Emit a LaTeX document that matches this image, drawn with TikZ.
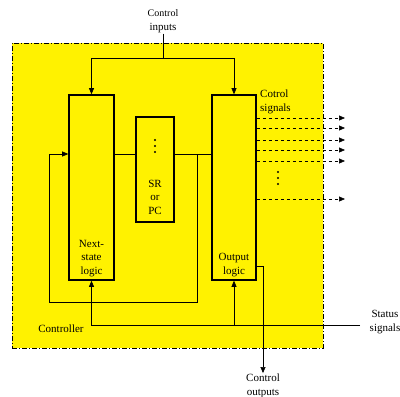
\documentclass[tikz,border=0pt]{standalone}
\usepackage{fontspec}
\setmainfont{Liberation Serif}
\usetikzlibrary{arrows.meta, positioning}

\begin{document}
\begin{tikzpicture}[
  x=1pt, y=-1pt,
  font=\fontsize{11}{13.5}\selectfont,
  ctrlbox/.style={rectangle, draw, fill=yellow, line width=0.6pt, dash pattern=on 5pt off 2pt on 1pt off 2pt, minimum width=311pt, minimum height=305pt},
  block/.style={rectangle, draw, line width=1.6pt, fill=yellow, minimum width=45pt, minimum height=185pt},
  lbl/.style={align=center, inner sep=1pt},
  wire/.style={line width=0.6pt},
  arrow/.style={-{Triangle[length=6pt, width=5pt]}, line width=0.6pt},
  sigout/.style={arrow, dashed}
]
\useasboundingbox (0,0) rectangle (400,397);

% Controller area
\node[ctrlbox] (ctrl) at (167.5,195.5) {};
\node[lbl] (ctrlname) at (61,329) {Controller};

% Blocks
\node[block] (nsl) at (91.5,187.5) {};
\node[block, minimum width=38pt, minimum height=105pt] (sr) at (155,169.5) {};
\node[block, minimum width=44pt] (out) at (234,187.5) {};
\node[lbl, above=3pt of nsl.south] (nsltxt) {Next-\\state\\logic};
\node[lbl, above=3pt of out.south] (outtxt) {Output\\logic};
\node[lbl] (srtxt) at (155,197) {SR\\or\\PC};
\foreach \y in {140,146,152} \fill (155,\y) circle (1.1pt);
\foreach \y in {172,178,184} \fill (278,\y) circle (1.1pt);

% Control inputs
\node[lbl] (cin) at (163,21) {{\fontsize{10}{12}\selectfont Control}\\inputs};
\coordinate (split) at (163,58);
\draw[wire] (cin) -- (split);
\draw[arrow] (split) -| (nsl.north);
\draw[arrow] (split) -| (out.north);

% State register loop
\coordinate (fb) at (197,154);
\coordinate (fbl) at (49,302);
\draw[wire] (nsl.east |- fb) -- (sr.west |- fb);
\draw[wire] (sr.east |- fb) -- (out.west |- fb);
\draw[arrow] (fb) |- (fbl) |- (nsl.west |- fb);

% Status signals
\node[lbl] (stat) at (385,322) {Status\\signals};
\coordinate (sin) at (360,325);
\draw[arrow] (sin) -| (nsl.south);
\draw[arrow] (out.south |- sin) -- (out.south);

% Control outputs
\node[lbl] (cout) at (263,386) {Control\\outputs};
\coordinate (co) at (263,266);
\draw[wire] (out.east |- co) -- (co);
\draw[arrow] (co) -- (cout.north);

% Control signals
\node[lbl, anchor=north west, align=left] (csig) at (259,89) {Cotrol\\signals};
\foreach \y in {118,128,140,150,161,199} {
  \coordinate (tip) at (345,\y);
  \draw[sigout] (out.east |- tip) -- (tip);
}

\end{tikzpicture}
\end{document}
